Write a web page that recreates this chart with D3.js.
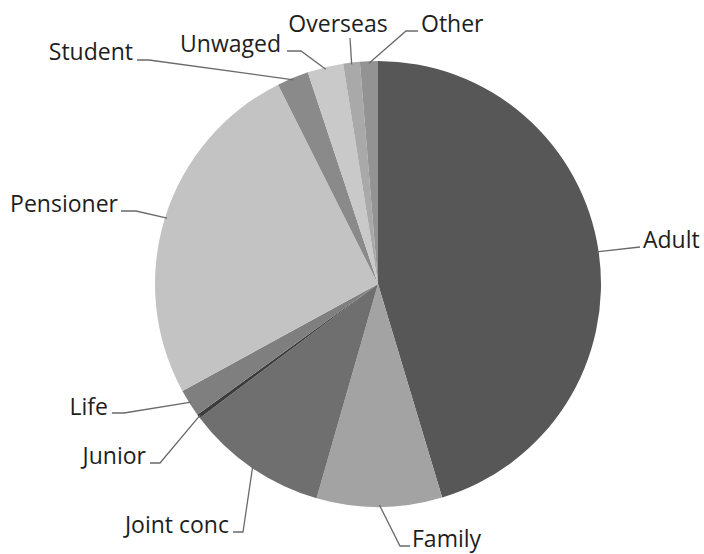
<!DOCTYPE html>
<html>
<head>
<meta charset="utf-8">
<script src="https://cdn.jsdelivr.net/npm/d3@7"></script>
<style>
  html, body { margin: 0; padding: 0; background: #ffffff; }
  svg { display: block; }
  text { font-family: "Open Sans", "Liberation Sans", sans-serif; font-size: 23px; fill: #1e1e1e; }
</style>
</head>
<body>
<svg id="chart" width="704" height="554"></svg>
<script>
// ---- data ----
const categories = ["Adult", "Family", "Joint conc", "Junior", "Life", "Pensioner", "Student", "Unwaged", "Overseas", "Other"];
const values     = [45.4, 9.1, 10.3, 0.3, 2.0, 25.6, 2.3, 2.6, 1.2, 1.3];
const colours    = ["#575757", "#a3a3a3", "#6f6f6f", "#3c3c3c", "#7f7f7f", "#c3c3c3", "#8a8a8a", "#c9c9c9", "#a9a9a9", "#939393"];

// ---- layout (label placement, not data) ----
const labelLayout = {
  "Adult":      { elbow: [640, 247], end: [640, 247], text: [643, 248], anchor: "start" },
  "Family":     { elbow: [400, 546], end: [410, 546], text: [412, 547], anchor: "start" },
  "Joint conc": { elbow: [243, 532], end: [233, 532], text: [229, 533], anchor: "end" },
  "Junior":     { elbow: [160, 463], end: [150, 463], text: [146, 464], anchor: "end" },
  "Life":       { elbow: [124, 413], end: [112, 413], text: [108, 415], anchor: "end" },
  "Pensioner":  { elbow: [136, 211], end: [121, 211], text: [118, 212], anchor: "end" },
  "Student":    { elbow: [149, 60],  end: [137, 60],  text: [133, 60],  anchor: "end" },
  "Unwaged":    { elbow: [301, 51],  end: [287, 51],  text: [281, 52],  anchor: "end" },
  "Overseas":   { elbow: [350, 38],  end: [350, 38],  text: [338, 32],  anchor: "middle" },
  "Other":      { elbow: [406, 31],  end: [418, 31],  text: [421, 32],  anchor: "start" }
};

const cx = 378, cy = 284, R = 223;

const svg = d3.select("#chart");
const g = svg.append("g").attr("transform", `translate(${cx},${cy})`);

const pie = d3.pie().sort(null).value(d => d.value).startAngle(0).endAngle(2 * Math.PI);
const data = categories.map((c, i) => ({ name: c, value: values[i], colour: colours[i] }));
const arcs = pie(data);
const arc = d3.arc().innerRadius(0).outerRadius(R);

g.selectAll("path.slice")
  .data(arcs)
  .enter().append("path")
  .attr("class", "slice")
  .attr("d", arc)
  .attr("fill", d => d.data.colour);

// leader lines and labels
const lab = svg.append("g");
arcs.forEach(a => {
  const L = labelLayout[a.data.name];
  const mid = (a.startAngle + a.endAngle) / 2;
  const sx = cx + Math.sin(mid) * (R - 2);
  const sy = cy - Math.cos(mid) * (R - 2);
  lab.append("polyline")
    .attr("points", [[sx, sy], L.elbow, L.end].map(p => p.join(",")).join(" "))
    .attr("fill", "none")
    .attr("stroke", "#6a6a6a")
    .attr("stroke-width", 1.3);
  lab.append("text")
    .attr("x", L.text[0])
    .attr("y", L.text[1])
    .attr("text-anchor", L.anchor)
    .text(a.data.name);
});
</script>
</body>
</html>
